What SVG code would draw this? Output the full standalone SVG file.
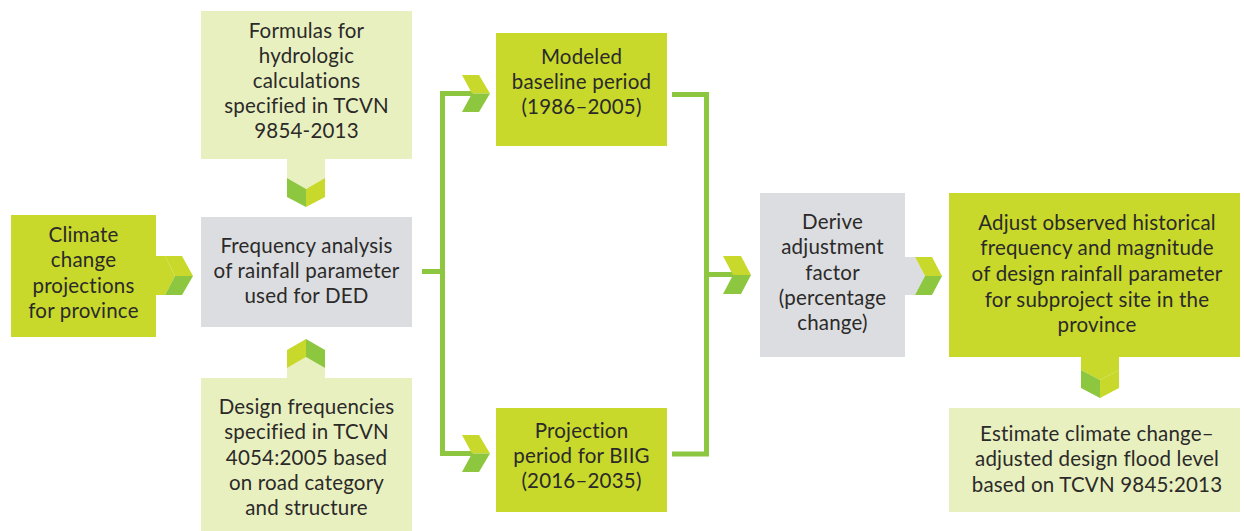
<svg xmlns="http://www.w3.org/2000/svg" width="1244" height="531" viewBox="0 0 1244 531">
  <style>
    .lime { fill: #c8d92b; }
    .dark { fill: #8dc63f; }
    .pale { fill: #e9f0c0; }
    .grey { fill: #dcdde0; }
    .lbl { font-family: Lato, "Open Sans", "Liberation Sans", sans-serif; font-size: 20.5px; letter-spacing: 0.2px; fill: #2b2a29; text-anchor: middle; }
    .wire { fill: none; stroke: #8dc63f; stroke-width: 5; stroke-linejoin: miter; }
  </style>

  <!-- connectors -->
  <g id="connectors">
    <path class="wire" d="M422 271.5 H442.5"/>
    <path class="wire" d="M473 93.5 H442.5 V453.5 H473"/>
    <polygon class="lime" points="462,75 479,75 490,93.5 472,93.5"/>
    <polygon class="dark" points="472,93.5 490,93.5 479,112 462,112"/>
    <polygon class="lime" points="462,435 479,435 490,453.5 472,453.5"/>
    <polygon class="dark" points="472,453.5 490,453.5 479,472 462,472"/>

    <path class="wire" d="M672 94.5 H706.5 V454 H672"/>
    <path class="wire" d="M706.5 274.5 H734"/>
    <polygon class="lime" points="723,256 741,256 751,275 733,275"/>
    <polygon class="dark" points="733,275 751,275 741,294 723,294"/>
  </g>

  <!-- Formulas box with down chevron -->
  <g id="formulas">
    <rect class="pale" x="201" y="11" width="211" height="148"/>
    <polygon class="pale" points="287,158 325,158 325,178 306,189 287,178"/>
    <polygon class="dark" points="287,178 306,189 306,207 287,197"/>
    <polygon class="lime" points="306,189 325,178 325,197 306,207"/>
    <text class="lbl" x="306.5" y="38">Formulas for</text>
    <text class="lbl" x="306.5" y="63">hydrologic</text>
    <text class="lbl" x="306.5" y="88">calculations</text>
    <text class="lbl" x="306.5" y="113">specified in TCVN</text>
    <text class="lbl" x="306.5" y="138">9854-2013</text>
  </g>

  <!-- Climate box with right chevron -->
  <g id="climate">
    <rect class="lime" x="11" y="215" width="145" height="122"/>
    <polygon class="lime" points="155,256 165,256 175,276 165,295 155,295"/>
    <polygon class="lime" points="165,256 182,256 193,276 175,276"/>
    <polygon class="dark" points="175,276 193,276 182,295 165,295"/>
    <text class="lbl" x="83.5" y="242">Climate</text>
    <text class="lbl" x="83.5" y="267">change</text>
    <text class="lbl" x="83.5" y="292.5">projections</text>
    <text class="lbl" x="83.5" y="318">for province</text>
  </g>

  <!-- Frequency analysis box -->
  <g id="frequency">
    <rect class="grey" x="201" y="217" width="211" height="110"/>
    <text class="lbl" x="306.5" y="252.5">Frequency analysis</text>
    <text class="lbl" x="306.5" y="277.5">of rainfall parameter</text>
    <text class="lbl" x="306.5" y="302.5">used for DED</text>
  </g>

  <!-- Design frequencies box with up chevron -->
  <g id="design">
    <rect class="pale" x="201" y="378" width="211" height="153"/>
    <polygon class="pale" points="287,368 306,357 325,368 325,379 287,379"/>
    <polygon class="lime" points="287,350 306,339 306,357 287,368"/>
    <polygon class="dark" points="306,339 325,350 325,368 306,357"/>
    <text class="lbl" x="306.5" y="414">Design frequencies</text>
    <text class="lbl" x="306.5" y="439">specified in TCVN</text>
    <text class="lbl" x="306.5" y="464.5">4054:2005 based</text>
    <text class="lbl" x="306.5" y="490">on road category</text>
    <text class="lbl" x="306.5" y="515">and structure</text>
  </g>

  <!-- Modeled baseline box -->
  <g id="modeled">
    <rect class="lime" x="496" y="33" width="171" height="113"/>
    <text class="lbl" x="581.5" y="64">Modeled</text>
    <text class="lbl" x="581.5" y="89">baseline period</text>
    <text class="lbl" x="581.5" y="114">(1986–2005)</text>
  </g>

  <!-- Projection period box -->
  <g id="projection">
    <rect class="lime" x="496" y="408" width="171" height="104"/>
    <text class="lbl" x="581.5" y="438">Projection</text>
    <text class="lbl" x="581.5" y="463">period for BIIG</text>
    <text class="lbl" x="581.5" y="488">(2016–2035)</text>
  </g>

  <!-- Derive adjustment factor box with right chevron -->
  <g id="derive">
    <rect class="grey" x="760" y="193" width="145" height="164"/>
    <polygon class="grey" points="904,257 915,257 925,276 915,295 904,295"/>
    <polygon class="lime" points="915,257 932,257 942,276 925,276"/>
    <polygon class="dark" points="925,276 942,276 932,295 915,295"/>
    <text class="lbl" x="832.5" y="229">Derive</text>
    <text class="lbl" x="832.5" y="254">adjustment</text>
    <text class="lbl" x="832.5" y="280">factor</text>
    <text class="lbl" x="832.5" y="305">(percentage</text>
    <text class="lbl" x="832.5" y="330">change)</text>
  </g>

  <!-- Adjust observed box with down chevron -->
  <g id="adjust">
    <rect class="lime" x="949" y="193" width="291" height="164"/>
    <polygon class="lime" points="1081,356 1119,356 1119,370 1100,380 1081,370"/>
    <polygon class="dark" points="1081,370 1100,380 1100,398 1081,388"/>
    <polygon class="lime" points="1100,380 1119,370 1119,388 1100,398"/>
    <text class="lbl" x="1097" y="230">Adjust observed historical</text>
    <text class="lbl" x="1097" y="255">frequency and magnitude</text>
    <text class="lbl" x="1097" y="281">of design rainfall parameter</text>
    <text class="lbl" x="1097" y="306.5">for subproject site in the</text>
    <text class="lbl" x="1097" y="331.5">province</text>
  </g>

  <!-- Estimate design flood level box -->
  <g id="estimate">
    <rect class="pale" x="949" y="408" width="291" height="104"/>
    <text class="lbl" x="1097" y="441">Estimate climate change–</text>
    <text class="lbl" x="1097" y="466">adjusted design flood level</text>
    <text class="lbl" x="1097" y="492">based on TCVN 9845:2013</text>
  </g>
</svg>
